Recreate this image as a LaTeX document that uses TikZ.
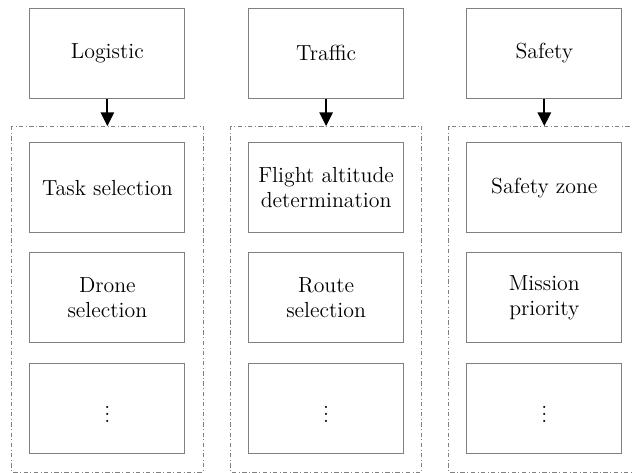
\documentclass[tikz,border=0pt]{standalone}
\usetikzlibrary{arrows.meta}

\begin{document}
\begin{tikzpicture}[
	blk/.style={draw=gray, line width=0.6pt, minimum width=3.15cm, minimum height=1.83cm, align=center, font=\fontsize{12.6}{14.6}\selectfont},
	grp/.style={draw=gray, line width=0.4pt, dash pattern=on 2.5pt off 1.5pt on 0.4pt off 1.5pt},
	arr/.style={line width=1.2pt, -{Triangle[length=2.8mm,width=2.7mm]}}]
	\useasboundingbox (0,0) rectangle (12.83,-9.60);
	\node[blk] (logistic) at (2.18,-1.08) {Logistic};
	\node[blk] (traffic) at (6.62,-1.08) {Traffic};
	\node[blk] (safety) at (11.05,-1.08) {Safety};

	\draw[grp] (0.24,-2.56) rectangle (4.12,-9.58);
	\draw[grp] (4.68,-2.56) rectangle (8.56,-9.58);
	\draw[grp] (9.11,-2.56) rectangle (13.05,-9.58);
	\coordinate (login) at (2.18,-2.56);
	\coordinate (trafin) at (6.62,-2.56);
	\coordinate (safin) at (11.05,-2.56);

	\node[blk] (task) at (2.18,-3.81) {Task selection};
	\node[blk] (drone) at (2.18,-6.04) {Drone\\selection};
	\node[blk] (logdots) at (2.18,-8.30) {$\vdots$};

	\node[blk] (altitude) at (6.62,-3.81) {Flight altitude\\determination};
	\node[blk] (route) at (6.62,-6.04) {Route\\selection};
	\node[blk] (trafdots) at (6.62,-8.30) {$\vdots$};

	\node[blk] (zone) at (11.05,-3.81) {Safety zone};
	\node[blk] (priority) at (11.05,-6.04) {Mission\\priority};
	\node[blk] (safdots) at (11.05,-8.30) {$\vdots$};

	\draw[arr] (logistic) -- (login);
	\draw[arr] (traffic) -- (trafin);
	\draw[arr] (safety) -- (safin);
\end{tikzpicture}
\end{document}
